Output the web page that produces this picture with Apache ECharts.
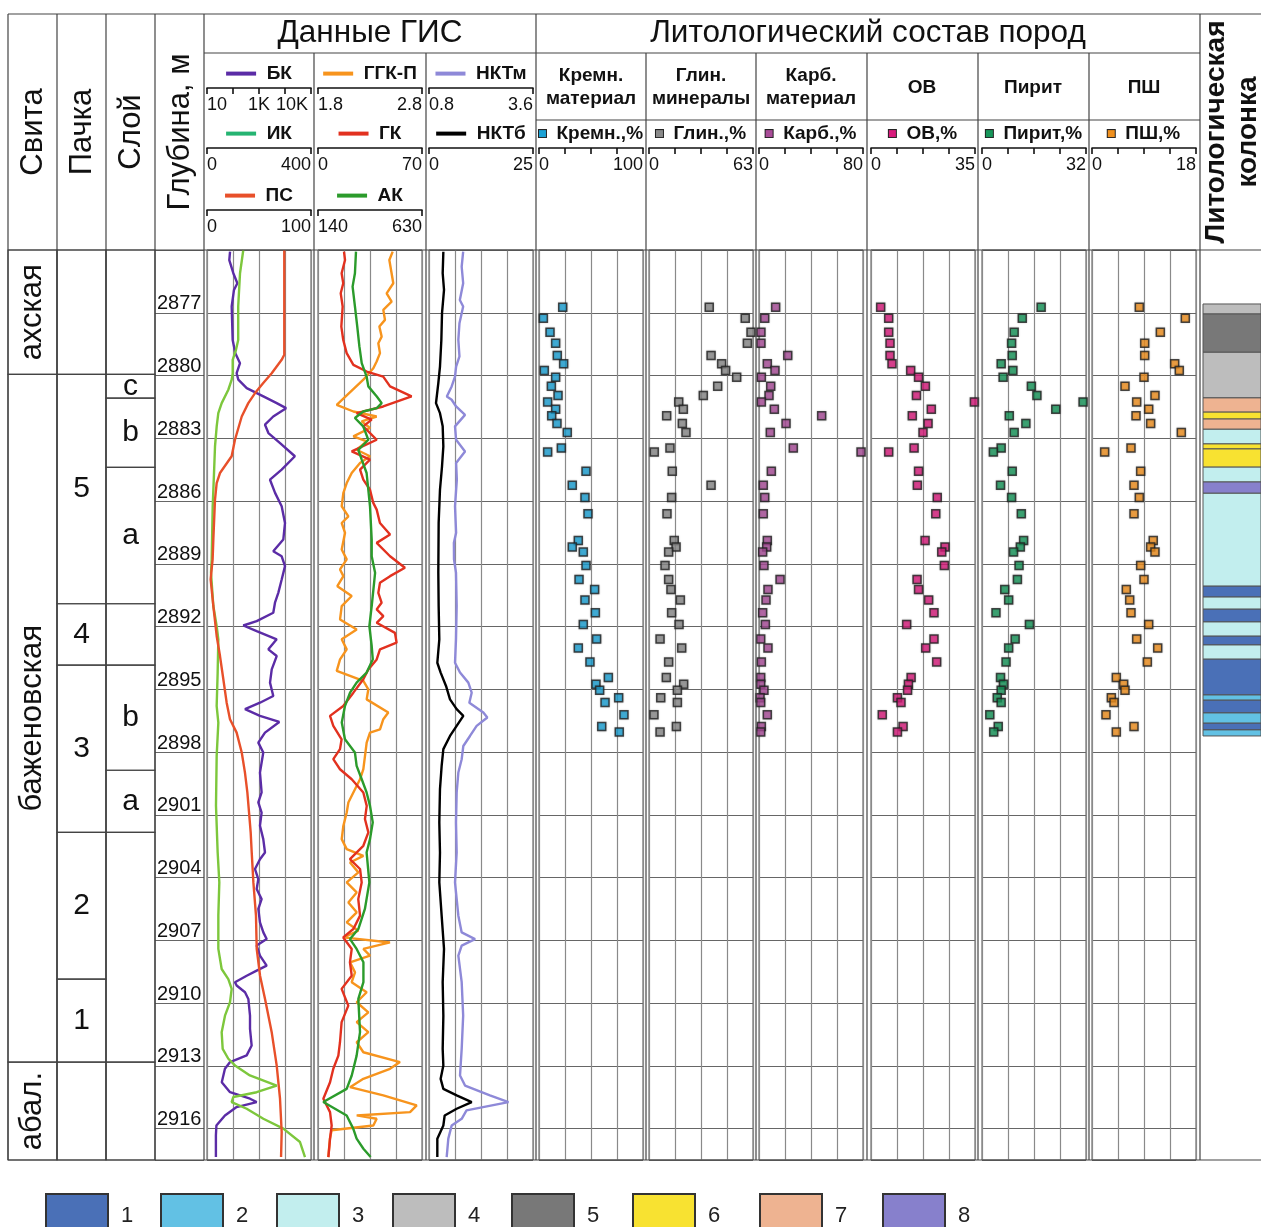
<!DOCTYPE html>
<html><head><meta charset="utf-8">
<script src="https://cdn.jsdelivr.net/npm/echarts@6/dist/echarts.min.js"></script>
<style>html,body{margin:0;padding:0;background:#fff}#c{width:1261px;height:1227px}</style>
</head><body><div id="c"></div>
<script>
const FF = '"Liberation Sans", Arial, sans-serif';
const DEPTH_MIN = 2874, DEPTH_MAX = 2917.5, DEPTH_STEP = 3;

// ---------- stratigraphy ----------
const svitaTop = [2874, 2879.95, 2912.82];
const svitaBot = [2879.95, 2912.82, 2917.5];
const svitaName = ['ахская', 'баженовская', 'абал.'];
const pachkaTop = [2874, 2879.95, 2890.91, 2893.84, 2901.84, 2908.85, 2912.82];
const pachkaBot = [2879.95, 2890.91, 2893.84, 2901.84, 2908.85, 2912.82, 2917.5];
const pachkaName = ['', '5', '4', '3', '2', '1', ''];
const sloyTop = [2874, 2879.95, 2881.08, 2884.39, 2890.91, 2893.84, 2898.87, 2901.84, 2912.82];
const sloyBot = [2879.95, 2881.08, 2884.39, 2890.91, 2893.84, 2898.87, 2901.84, 2912.82, 2917.5];
const sloyName = ['', 'c', 'b', 'a', '', 'b', 'a', '', ''];

// ---------- GIS curves ----------
const bkDepth = [2874.08,2874.48,2875.11,2875.59,2875.91,2876.7,2878.3,2878.93,2879.41,2879.89,2880.2,2880.6,2881.0,2881.32,2881.56,2881.96,2882.35,2882.75,2883.23,2883.86,2884.5,2884.98,2885.61,2886.25,2887.05,2887.84,2888.40,2888.64,2889.11,2889.75,2890.39,2890.86,2891.34,2891.74,2891.95,2892.22,2892.61,2893.09,2893.41,2894.05,2894.68,2895.32,2895.64,2895.95,2896.27,2896.56,2897.07,2897.55,2898.02,2898.98,2899.93,2900.41,2900.89,2901.52,2902.16,2902.8,2903.12,2903.59,2904.07,2904.55,2905.03,2905.5,2906.14,2906.62,2906.94,2907.25,2907.73,2908.21,2908.45,2908.69,2909.0,2909.16,2909.48,2909.8,2910.6,2911.23,2912.03,2912.5,2912.82,2913.14,2913.78,2914.26,2914.57,2914.73,2914.97,2915.37,2915.85,2916.32,2917.36];
const bkVal = [77,72,103,147,109,89,97,123,186,138,160,337,1470,4800,11000,3530,1700,2300,6460,24000,7440,2650,4150,7440,10000,8600,3540,7460,10000,7460,5520,4120,3540,813,249,813,4790,2290,4790,3090,2650,3540,1090,290,1090,6030,1700,940,1460,1090,1260,940,1260,1090,1460,1700,1090,701,942,813,1260,942,1090,1470,1970,813,1090,1970,813,336,119,138,290,389,451,451,522,336,77,49,37,77,451,813,138,49,23,22,22];

const ikDepth = [2874.0,2875.11,2876.7,2878.3,2878.77,2879.25,2879.89,2880.2,2880.68,2881.32,2881.8,2882.43,2883.39,2884.66,2886.25,2888.8,2889.43,2891.02,2891.98,2892.61,2894.2,2895.8,2896.59,2898.18,2900.57,2902.8,2904.23,2905.82,2907.41,2908.37,2908.85,2909.32,2909.96,2910.6,2911.39,2912.19,2912.66,2912.98,2913.46,2913.94,2914.26,2914.49,2914.73,2915.05,2915.53,2916.0,2916.64,2917.36];
const ikVal = [139.6,127,120,120,111.5,98.8,98.8,95,82,56.5,43.5,37.3,30.8,27,21.9,18,15.4,24.4,37.2,43.6,41,37.2,43.6,37.2,34.6,41,47.4,43.6,43.6,56.4,82,94.9,88.5,69.2,56.4,60.3,82,107.7,165,268,191,101,94.9,152.6,216.7,293.6,357.7,376.9];

const psDepth = [2874.0,2879.01,2879.25,2879.89,2880.36,2880.84,2881.32,2881.96,2883.07,2883.86,2884.66,2885.14,2885.93,2887.84,2888.79,2889.75,2891.02,2892.45,2893.41,2894.52,2895.64,2896.43,2897.07,2898.02,2898.98,2899.93,2901.05,2901.84,2902.8,2904.23,2905.82,2907.41,2908.69,2909.8,2911.39,2912.98,2914.57,2916.16,2917.36];
const psVal = [74.3,74.3,71.8,62.2,54.1,46.2,39.7,33.4,26.9,23.7,12.5,9.3,7.7,6.1,5.4,3.5,6.1,9.3,12.5,15.7,18.9,22.1,28.5,33.4,36.5,38.8,40.7,42,43,44.6,47.1,47.8,51,55.8,62.2,67,70.2,71.8,71.2];

const ggkDepth = [2874.08,2874.48,2875.59,2876.07,2876.47,2876.86,2877.34,2877.66,2878.14,2878.46,2878.93,2879.33,2879.65,2880.2,2881.4,2881.72,2881.96,2882.19,2882.51,2882.91,2883.15,2883.55,2883.86,2884.18,2884.66,2885.14,2885.61,2886.25,2886.73,2887.05,2887.52,2888.32,2888.79,2889.27,2889.59,2890.07,2890.54,2891.02,2891.66,2892.14,2892.61,2893.09,2893.57,2894.12,2894.36,2894.6,2895.0,2895.48,2896.11,2896.43,2896.91,2897.07,2897.55,2898.18,2898.82,2899.3,2899.93,2900.41,2900.89,2901.52,2902.16,2902.64,2902.96,2903.28,2903.75,2904.23,2904.71,2905.19,2905.66,2906.14,2906.54,2906.86,2907.1,2907.41,2907.73,2908.05,2908.53,2909.0,2909.48,2909.96,2910.44,2910.91,2911.39,2911.87,2912.35,2912.82,2913.14,2913.62,2914.02,2914.41,2914.89,2915.21,2915.37,2915.53,2915.85,2916.08,2916.48,2917.36];
const ggkVal = [2.518,2.486,2.524,2.46,2.508,2.428,2.444,2.39,2.412,2.38,2.396,2.364,2.332,2.236,1.98,2.14,2.364,2.22,2.3,2.14,2.268,2.172,2.3,2.204,2.124,2.076,2.044,2.028,2.092,2.028,2.06,2.028,2.076,2.012,2.044,1.986,2.124,2.028,2.012,2.172,2.028,2.076,2.012,1.98,2.108,2.236,2.284,2.268,2.476,2.428,2.396,2.3,2.268,2.252,2.236,2.204,2.14,2.092,2.076,2.044,2.028,2.076,2.236,2.108,2.188,2.076,2.172,2.092,2.172,2.076,2.188,2.044,2.492,2.236,2.3,2.108,2.156,2.124,2.268,2.172,2.284,2.172,2.284,2.172,2.236,2.588,2.492,2.236,2.108,2.428,2.749,2.685,2.172,2.364,2.332,1.931,1.915,1.899];

const gkDepth = [2874.08,2874.48,2875.11,2875.59,2876.07,2876.7,2877.66,2878.3,2878.93,2879.49,2879.81,2880.05,2880.52,2881.0,2881.48,2881.8,2882.11,2882.43,2883.07,2883.63,2884.02,2884.5,2884.98,2885.46,2886.09,2886.41,2887.05,2887.6,2888.0,2888.64,2889.19,2889.59,2889.91,2890.39,2890.86,2891.18,2891.5,2891.82,2892.3,2892.77,2893.09,2893.57,2894.05,2894.52,2895.16,2895.8,2896.27,2896.75,2897.39,2897.86,2898.34,2898.82,2899.3,2899.93,2900.57,2901.2,2901.84,2902.48,2903.12,2903.59,2904.23,2905.03,2905.82,2906.46,2906.86,2907.41,2908.05,2908.69,2909.32,2910.12,2910.91,2911.87,2912.51,2913.14,2913.78,2914.57,2915.21,2915.85,2916.48,2917.36];
const gkVal = [17.5,18.2,15.9,17.0,15.3,16.6,15.7,17.0,19.3,23.8,32.8,43.9,48.5,63.0,43.9,26.0,36.1,30.5,39.5,22.7,35.0,28.3,30.5,35.0,37.2,39.5,41.7,48.5,39.5,48.5,58.5,48.5,41.7,40.6,42.8,39.5,44.0,39.5,51.8,52.9,41.7,39.5,33.9,30.5,23.8,17.0,8.1,10.3,15.9,14.8,10.3,14.8,22.7,30.5,32.8,31.6,33.9,30.5,21.5,28.3,29.4,27.1,28.3,23.8,17.0,22.7,21.5,22.7,15.9,20.4,15.9,14.8,13.7,10.3,8.1,3.6,8.1,9.2,8.1,7.0];

const akDepth = [2874.08,2875.11,2875.75,2876.7,2877.66,2878.61,2879.41,2880.05,2880.52,2881.0,2881.32,2881.56,2881.72,2882.03,2882.43,2883.07,2883.55,2884.02,2884.66,2886.25,2887.84,2888.64,2889.43,2890.23,2891.02,2891.98,2892.93,2893.57,2894.2,2894.68,2895.16,2895.8,2896.59,2897.39,2898.02,2898.66,2899.3,2899.93,2900.57,2901.36,2902.16,2902.8,2904.23,2905.5,2906.46,2906.94,2907.41,2908.05,2909.0,2909.8,2911.39,2912.51,2913.46,2914.1,2914.73,2915.37,2916.0,2916.48,2916.96,2917.36];
const akVal = [319,314,303,314,325,335,346,369,377,417,440,417,353,314,353,377,330,346,369,385,393,393,409,401,393,382,393,398,369,322,291,267,252,267,314,322,346,369,385,398,385,369,382,361,330,291,322,354,354,330,338,322,299,275,165,275,306,322,354,388];

const nktbDepth = [2874.08,2875.11,2875.91,2877.02,2878.3,2879.57,2880.36,2881.32,2881.8,2882.43,2883.39,2884.34,2885.46,2887.05,2889.43,2891.02,2892.61,2893.73,2894.2,2894.84,2895.48,2895.95,2896.27,2896.75,2897.23,2897.86,2898.66,2899.77,2901.36,2902.8,2904.23,2905.82,2907.41,2909.0,2910.6,2912.19,2912.98,2913.62,2914.1,2914.41,2914.73,2915.05,2915.37,2915.85,2916.48,2917.36];
const nktbVal = [3.45,3.29,3.61,3.13,2.97,2.64,2.24,1.68,2.64,3.29,3.45,3.13,2.64,2.32,2.24,2.32,2.48,2.0,2.8,4.09,5.05,6.65,8.25,6.65,5.05,3.45,3.04,2.64,2.48,2.64,2.48,3.04,3.61,3.29,3.45,3.29,3.45,2.8,3.45,6.65,10.26,6.65,3.77,3.45,2.0,2.0];

const nktmDepth = [2874.08,2874.8,2875.59,2876.39,2876.7,2877.5,2878.3,2879.09,2879.57,2880.05,2880.52,2881.0,2881.16,2881.48,2881.88,2882.43,2883.07,2883.63,2884.18,2884.98,2886.25,2887.52,2888.0,2888.79,2889.43,2891.02,2892.61,2893.73,2894.2,2894.68,2895.16,2895.64,2896.11,2896.35,2896.75,2897.23,2897.71,2898.34,2898.98,2899.93,2901.36,2902.8,2904.23,2905.82,2906.62,2906.94,2907.25,2907.73,2909.0,2910.6,2912.19,2913.46,2913.94,2914.41,2914.73,2915.13,2915.53,2915.85,2916.48,2917.36];
const nktmVal = [1.72,1.68,1.72,1.63,1.72,1.62,1.59,1.62,1.53,1.50,1.41,1.28,1.41,1.53,1.77,1.50,1.53,1.77,1.53,1.55,1.50,1.53,1.47,1.473,1.527,1.545,1.527,1.5,1.635,1.859,1.949,1.886,2.263,2.37,2.083,1.904,1.724,1.68,1.59,1.545,1.527,1.545,1.50,1.59,1.68,2.04,1.68,1.59,1.68,1.72,1.68,1.635,1.77,2.44,2.94,1.81,1.68,1.41,1.32,1.276];

const bkTickLabels = {10: '10', 1000: '1K', 10000: '{r|10K}'};

// ---------- lithology samples ----------
const sampleDepth = [2876.74,2877.26,2877.93,2878.46,2879.04,2879.44,2879.76,2880.08,2880.51,2880.95,2881.26,2881.61,2881.92,2882.29,2882.72,2883.47,2883.66,2884.58,2885.25,2885.83,2886.61,2887.89,2888.20,2888.44,2889.08,2889.75,2890.23,2890.73,2891.34,2891.90,2892.60,2893.03,2893.69,2894.44,2894.76,2895.05,2895.40,2895.63,2896.22,2896.78,2897.04];
const kremn = [22.8,4.2,10.6,16.0,17.6,23.7,5.1,16.0,11.9,18.3,8.3,16.0,12.2,17.3,27.2,21.5,8.3,45.2,32.0,44.2,47.1,37.8,32.0,42.6,45.2,38.5,53.5,44.2,54.2,42.6,55.4,37.8,49.0,66.7,54.8,58.3,76.6,63.5,81.7,60.3,77.2];
const glin = [36.5,58.3,61.8,59.6,37.6,44.0,46.4,53.1,41.6,32.9,18.0,20.8,10.7,20.2,22.4,12.7,3.2,14.1,37.6,13.7,10.9,15.3,16.4,11.9,9.7,11.9,13.3,19.0,13.7,18.2,6.7,19.8,11.9,10.5,21.0,17.2,7.1,17.2,3.0,16.6,6.7];
const karb = [12.8,4.4,1.5,1.5,22.1,6.4,12.3,1.8,9.0,7.7,1.8,11.8,48.2,20.8,8.7,26.4,78.5,9.5,3.3,4.4,3.3,6.4,5.9,2.8,3.8,16.2,6.9,5.4,2.8,4.9,1.3,6.9,1.8,1.3,1.3,3.8,0.8,1.3,6.4,1.8,1.3];
const ov = [3.25,5.95,5.95,6.4,6.4,7.07,13.35,16.0,18.3,15.3,34.8,20.3,13.9,19.2,17.5,14.5,5.95,16.0,15.6,22.3,21.8,18.2,24.9,23.8,24.7,15.5,16.0,19.4,21.2,12.0,21.2,18.4,22.1,13.5,12.6,12.3,8.9,10.1,3.8,10.8,8.9];
const pyrite = [18.2,12.4,9.9,9.1,9.3,5.9,9.5,6.5,15.2,16.9,31.1,22.7,8.4,13.5,9.9,5.9,3.5,9.3,5.7,9.1,12.1,12.8,11.8,9.7,11.4,10.9,7.0,8.2,4.3,14.6,10.2,8.2,7.4,5.7,6.6,5.9,4.7,5.9,2.4,5.0,3.6];
const psh = [8.19,16.15,11.83,9.12,9.12,14.31,15.11,9.0,5.71,10.9,7.73,9.81,7.62,10.15,15.46,6.75,2.19,8.42,7.27,8.19,7.27,10.6,10.15,10.9,8.42,9.0,5.94,6.52,6.75,9.81,7.73,11.37,9.58,4.21,5.48,5.71,3.35,3.81,2.42,7.27,4.21];

// ---------- lithological column ----------
const lithTop = [2876.58,2877.06,2878.88,2881.07,2881.74,2882.08,2882.56,2883.27,2883.51,2884.37,2885.09,2885.62,2890.06,2890.59,2891.16,2891.78,2892.45,2892.88,2893.55,2895.27,2895.51,2896.13,2896.61,2896.94];
const lithBot = [2877.06,2878.88,2881.07,2881.74,2882.08,2882.56,2883.27,2883.51,2884.37,2885.09,2885.62,2890.06,2890.59,2891.16,2891.78,2892.45,2892.88,2893.55,2895.27,2895.51,2896.13,2896.61,2896.94,2897.23];
const lithType = [4,5,4,7,6,7,3,6,6,3,8,3,1,3,1,3,1,3,1,2,1,2,1,2];
const lithNames = ['1','2','3','4','5','6','7','8'];
const lithColors = ['#4a70b7','#62c1e4','#c2eeee','#bdbdbd','#787878','#f8e231','#eeb391','#8780cc'];

// ---------- build ----------
const zip = (d, v) => d.map((dd, i) => [v[i], dd]);
const grids = [], xAxes = [], yAxes = [], series = [];
function addGrid(left, width, border, split) {
  grids.push({left: left, top: 250, width: width, height: 910, show: border, borderColor: '#555', borderWidth: 1, backgroundColor: 'transparent', outerBoundsMode: 'none'});
  const gi = grids.length - 1;
  yAxes.push({gridIndex: gi, type: 'value', inverse: true, min: DEPTH_MIN, max: DEPTH_MAX, interval: DEPTH_STEP,
    axisLine: {show: false}, axisTick: {show: false}, axisLabel: {show: false},
    splitLine: {show: split, lineStyle: {color: '#666', width: 1.2}}});
  return gi;
}
function hiddenX(gi, min, max, interval, split) {
  xAxes.push({gridIndex: gi, type: 'value', min: min, max: max, interval: interval, position: 'bottom',
    axisLine: {show: false}, axisTick: {show: false}, axisLabel: {show: false},
    splitLine: {show: split, lineStyle: {color: '#8a8a8a', width: 1.2}}});
  return xAxes.length - 1;
}

// strat grid
const gStrat = addGrid(8, 147, false, false);
const xStrat = hiddenX(gStrat, 0, 3, 1, false);
const stratData = [], stratLabels = [];
[[svitaTop, svitaBot, svitaName], [pachkaTop, pachkaBot, pachkaName], [sloyTop, sloyBot, sloyName]].forEach((c, ci) => {
  c[0].forEach((t, i) => { stratData.push([ci, t, c[1][i]]); stratLabels.push(c[2][i]); });
});
series.push({type: 'custom', xAxisIndex: xStrat, yAxisIndex: gStrat, data: stratData, silent: true,
  renderItem: function (params, api) {
    const col = api.value(0), t = api.value(1), b = api.value(2);
    const p0 = api.coord([col, t]), p1 = api.coord([col + 1, b]);
    const label = stratLabels[params.dataIndex];
    const rot = col === 0;
    return {type: 'group', children: [
      {type: 'rect', shape: {x: p0[0], y: p0[1], width: p1[0] - p0[0], height: p1[1] - p0[1]},
        style: {fill: 'none', stroke: '#444', lineWidth: 1.2}},
      {type: 'text', x: (p0[0] + p1[0]) / 2, y: (p0[1] + p1[1]) / 2, rotation: rot ? Math.PI / 2 : 0,
        style: {text: label, fill: '#111', font: (rot ? '31px ' : '30px ') + FF, align: 'center', verticalAlign: 'middle'}}
    ]};
  }});

// depth grid
const gDepth = addGrid(155, 49, false, true);
yAxes[gDepth].axisLabel = {show: true, inside: true, fontSize: 20, fontFamily: FF, color: '#111', verticalAlign: 'bottom', align: 'left', margin: 2, showMinLabel: false, showMaxLabel: false, lineHeight: 18, formatter: v => String(v)};
hiddenX(gDepth, 0, 1, 1, false);

// GIS tracks
const gisLefts = [207, 318, 429];
const gisGrid = gisLefts.map(l => addGrid(l, 104, true, true));
gisGrid.forEach(gi => hiddenX(gi, 0, 4, 1, true));
const rowOffsets = [162, 102, 40];
const gisCurves = [
  {name: 'БК', track: 0, row: 0, log: true, min: 10, max: 100000, color: '#5b2ca6', d: bkDepth, v: bkVal},
  {name: 'ИК', track: 0, row: 1, min: 0, max: 400, color: '#7dc73c', lc: '#25b472', d: ikDepth, v: ikVal},
  {name: 'ПС', track: 0, row: 2, min: 0, max: 100, color: '#e8502a', d: psDepth, v: psVal},
  {name: 'ГГК-П', track: 1, row: 0, min: 1.8, max: 2.8, color: '#f7941d', d: ggkDepth, v: ggkVal},
  {name: 'ГК', track: 1, row: 1, min: 0, max: 70, color: '#e2311f', d: gkDepth, v: gkVal},
  {name: 'АК', track: 1, row: 2, min: 140, max: 630, color: '#2b9b2b', d: akDepth, v: akVal},
  {name: 'НКТм', track: 2, row: 0, min: 0.8, max: 3.6, color: '#8e89d8', d: nktmDepth, v: nktmVal},
  {name: 'НКТб', track: 2, row: 1, min: 0, max: 25, color: '#000000', d: nktbDepth, v: nktbVal}
];
gisCurves.forEach(c => {
  const ax = {gridIndex: gisGrid[c.track], type: c.log ? 'log' : 'value', min: c.min, max: c.max,
    position: 'top', offset: rowOffsets[c.row],
    axisLine: {show: true, onZero: false, lineStyle: {color: '#111', width: 1.6}},
    axisTick: {show: true, inside: true, length: 6, lineStyle: {color: '#111', width: 1.6}},
    axisLabel: {show: true, inside: true, margin: 8, fontSize: 18, fontFamily: FF, color: '#111',
      alignMinLabel: 'left', alignMaxLabel: 'right'},
    splitLine: {show: false},
    name: '{l|}  ' + c.name, nameLocation: 'middle', nameGap: 3,
    nameTextStyle: {fontSize: 19, fontWeight: 'bold', fontFamily: FF, color: '#111', verticalAlign: 'bottom',
      rich: {l: {width: 30, height: 4, backgroundColor: c.lc || c.color, verticalAlign: 'middle'}}}};
  if (c.log) {
    ax.logBase = 10;
    ax.axisLabel.formatter = v => bkTickLabels[Math.round(v)] || '';
    ax.axisLabel.rich = {r: {fontSize: 18, fontFamily: FF, color: '#111', padding: [0, 0, 0, 14]}};
  } else {
    ax.axisTick.customValues = [c.min, c.max];
    ax.axisLabel.customValues = [c.min, c.max];
  }
  xAxes.push(ax);
  const xi = xAxes.length - 1;
  series.push({type: 'line', name: c.name, xAxisIndex: xi, yAxisIndex: gisGrid[c.track], data: zip(c.d, c.v),
    showSymbol: false, symbol: 'none', smooth: false, lineStyle: {color: c.color, width: 2.4}, itemStyle: {color: c.color}, z: 3});
});

// lithology tracks
const lithoTracks = [
  {name: 'Кремн.,%', left: 539, max: 100, color: '#1ba1d4', v: kremn},
  {name: 'Глин.,%', left: 649, max: 63, color: '#8a8a8a', v: glin},
  {name: 'Карб.,%', left: 759, max: 80, color: '#a94c98', v: karb},
  {name: 'ОВ,%', left: 871, max: 35, color: '#d81b7c', v: ov},
  {name: 'Пирит,%', left: 982, max: 32, color: '#17965a', v: pyrite},
  {name: 'ПШ,%', left: 1092, max: 18, color: '#f0901e', v: psh}
];
lithoTracks.forEach(t => {
  const gi = addGrid(t.left, 104, true, true);
  xAxes.push({gridIndex: gi, type: 'value', min: 0, max: t.max, interval: t.max / 4, position: 'top', offset: 102,
    axisLine: {show: true, onZero: false, lineStyle: {color: '#111', width: 1.6}},
    axisTick: {show: true, inside: true, length: 6, lineStyle: {color: '#111', width: 1.6}},
    axisLabel: {show: true, inside: true, margin: 8, fontSize: 18, fontFamily: FF, color: '#111',
      alignMinLabel: 'left', alignMaxLabel: 'right',
      formatter: v => (v === 0 ? '0' : (Math.abs(v - t.max) < 1e-6 ? String(t.max) : ''))},
    splitLine: {show: true, lineStyle: {color: '#8a8a8a', width: 1.2}},
    name: '{s|}  ' + t.name, nameLocation: 'middle', nameGap: 3,
    nameTextStyle: {fontSize: 19, fontWeight: 'bold', fontFamily: FF, color: '#111', verticalAlign: 'bottom',
      rich: {s: {width: 7, height: 7, backgroundColor: t.color, borderColor: '#222', borderWidth: 1, verticalAlign: 'middle'}}}});
  const xi = xAxes.length - 1;
  series.push({type: 'scatter', name: t.name, xAxisIndex: xi, yAxisIndex: gi, data: zip(sampleDepth, t.v),
    symbol: 'rect', symbolSize: 8, itemStyle: {color: t.color, borderColor: '#222', borderWidth: 1.5, shadowBlur: 2, shadowColor: 'rgba(0,0,0,0.25)'}, z: 4});
});

// lithological column
const gLith = addGrid(1203, 58, false, false);
const xLith = hiddenX(gLith, 0, 1, 1, false);
lithNames.forEach((nm, k) => {
  const data = [];
  lithType.forEach((ty, i) => { if (ty === k + 1) data.push([lithTop[i], lithBot[i]]); });
  series.push({type: 'custom', name: nm, xAxisIndex: xLith, yAxisIndex: gLith, data: data,
    itemStyle: {color: lithColors[k]},
    renderItem: function (params, api) {
      const p0 = api.coord([0, api.value(0)]), p1 = api.coord([1, api.value(1)]);
      return {type: 'rect', shape: {x: p0[0], y: p0[1], width: p1[0] - p0[0], height: p1[1] - p0[1]},
        style: {fill: lithColors[k], stroke: '#555', lineWidth: 1}};
    }});
});

// bottom legends
const legendLefts = [45, 160, 276, 392, 511, 632, 759, 882];
const legends = lithNames.map((nm, k) => ({
  left: legendLefts[k] - 5, top: 1188, orient: 'horizontal', selectedMode: false,
  itemWidth: 62, itemHeight: 44, icon: 'rect',
  data: [{name: nm, icon: 'rect', itemStyle: {color: lithColors[k], borderColor: '#333', borderWidth: 2}}],
  textStyle: {fontSize: 22, fontFamily: FF, color: '#222', padding: [0, 0, 0, 8]}
}));

// ---------- frame & headers ----------
const L = (x1, y1, x2, y2) => ({type: 'line', shape: {x1, y1, x2, y2}, style: {stroke: '#444', lineWidth: 1.2}, z: 10, silent: true});
const T = (text, x, y, size, opts) => ({type: 'text', x: x, y: y, rotation: (opts && opts.rot) ? Math.PI / 2 : 0, z: 10, silent: true,
  style: {text: text, fill: '#111', font: ((opts && opts.bold) ? 'bold ' : '') + size + 'px ' + FF, textAlign: 'center', textVerticalAlign: 'middle', lineHeight: (opts && opts.lh) || size * 1.2}});
const graphics = [
  L(8, 14, 1261, 14), L(204, 53, 1200, 53), L(536, 120, 1200, 120), L(8, 250, 1261, 250), L(8, 1160, 1261, 1160)
];
[8, 57, 106, 155, 204, 536, 1200].forEach(x => graphics.push(L(x, 14, x, 1160)));
[314, 426, 646, 756, 867, 978, 1089].forEach(x => graphics.push(L(x, 53, x, 1160)));
graphics.push(
  T('Свита', 33, 132, 31, {rot: true}), T('Пачка', 82, 132, 31, {rot: true}), T('Слой', 131, 132, 31, {rot: true}),
  T('Глубина, м', 180, 132, 31, {rot: true}),
  T('Данные ГИС', 370, 33, 31.5), T('Литологический состав пород', 868, 33, 31.5),
  T('Кремн.\nматериал', 591, 87, 19, {bold: true, lh: 23}), T('Глин.\nминералы', 701, 87, 19, {bold: true, lh: 23}),
  T('Карб.\nматериал', 811, 87, 19, {bold: true, lh: 23}), T('ОВ', 922, 88, 19, {bold: true}),
  T('Пирит', 1033, 88, 19, {bold: true}), T('ПШ', 1144, 88, 19, {bold: true}),
  T('Литологическая\nколонка', 1232, 132, 28, {rot: true, bold: true, lh: 32})
);

const chart = echarts.init(document.getElementById('c'));
chart.setOption({
  animation: false, backgroundColor: '#fff',
  grid: grids, xAxis: xAxes, yAxis: yAxes, series: series, legend: legends, graphic: graphics
});
</script></body></html>
